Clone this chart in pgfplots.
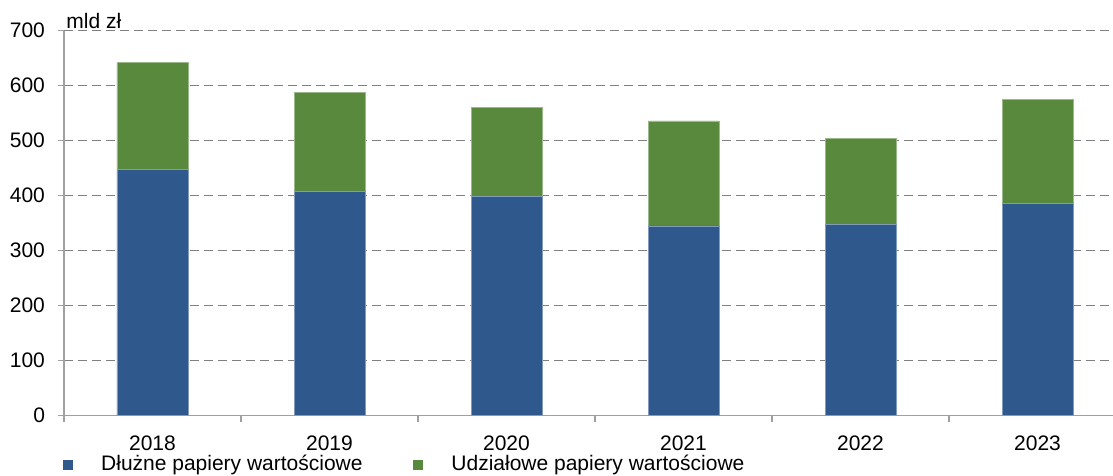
\documentclass[border=0pt]{standalone}
\usepackage{pgfplots}
\pgfplotsset{compat=1.18}
\usepackage{fontspec}
\setmainfont{Liberation Sans}

\definecolor{debtblue}{RGB}{47,89,140}
\definecolor{equitygreen}{RGB}{88,137,61}
\definecolor{gridgray}{RGB}{128,128,128}
\definecolor{axisgray}{RGB}{160,160,160}

\begin{document}
\begin{tikzpicture}[font=\fontsize{10.5}{12.5}\selectfont]
\begin{axis}[
  at={(0,0)}, anchor=south west,
  scale only axis,
  width=531pt, height=192.5pt,
  ybar stacked,
  bar width=35.5pt,
  xmin=-0.5, xmax=5.5,
  ymin=0, ymax=700,
  ytick={0,100,...,700},
  xtick={0,...,5},
  xticklabels={2018,2019,2020,2021,2022,2023},
  minor xtick={-0.5,0.5,...,5.5},
  axis x line*=bottom,
  axis y line*=left,
  axis line style={axisgray, line width=0.6pt},
  tick style={axisgray, line width=0.6pt},
  tick align=outside,
  x tick style={draw=none},
  minor x tick style={draw=axisgray, line width=0.6pt},
  major tick length=3pt,
  minor tick length=3pt,
  ymajorgrids,
  major grid style={gridgray, dash pattern=on 4.5pt off 2.5pt, line width=0.6pt},
  /pgf/number format/assume math mode=true,
  yticklabel style={anchor=east, xshift=-3pt},
  xticklabel style={anchor=north, yshift=-3.5pt},
  legend columns=2,
  legend style={
    at={(rel axis cs:0,0)}, anchor=west,
    xshift=-1pt, yshift=-24.5pt,
    draw=none, fill=none, inner sep=0pt,
    /tikz/every even column/.append style={column sep=23pt},
  },
  legend cell align=left,
  legend image code/.code={%
    \fill[#1, draw=none] (0pt,-2.6pt) rectangle (5.2pt,2.6pt);
    \path (0pt,0pt) (17pt,0pt);
  },
  clip=false,
]
\addplot[fill=debtblue, draw=debtblue!60!white, line width=0.4pt]
  coordinates {(0,447) (1,407) (2,399) (3,345) (4,348) (5,386)};
\addlegendentry{Dłużne papiery wartościowe}
\addplot[fill=equitygreen, draw=equitygreen!60!white, line width=0.4pt]
  coordinates {(0,195) (1,180) (2,162) (3,191) (4,156) (5,189)};
\addlegendentry{Udziałowe papiery wartościowe}

\node[anchor=base west, inner sep=0pt, xshift=1pt, yshift=1pt]
  at (rel axis cs:0,1) {mld zł};
\end{axis}
\pgfresetboundingbox
\path (-32pt,-30.15pt) rectangle (524.5pt,207.85pt);
\end{tikzpicture}
\end{document}
